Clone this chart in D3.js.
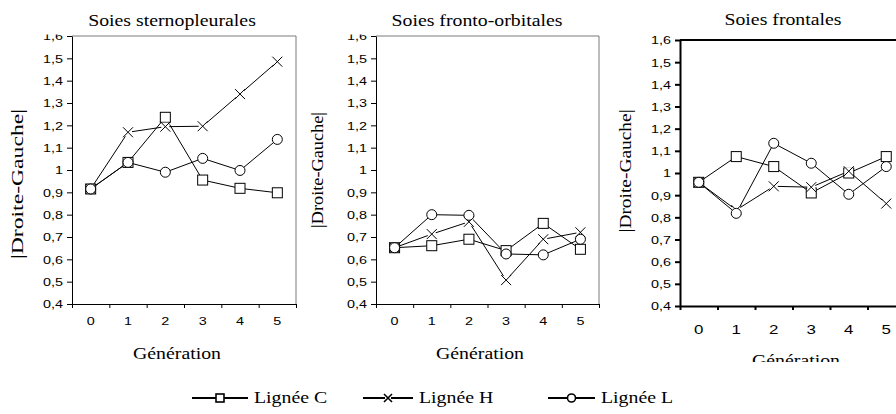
<!DOCTYPE html>
<html>
<head>
<meta charset="utf-8">
<script src="https://cdn.jsdelivr.net/npm/d3@7/dist/d3.min.js"></script>
<style>
  body { margin: 0; background: #fff; }
  svg { display: block; }
  .serif { font-family: "Liberation Serif", "Times New Roman", Times, serif; }
  .sans { font-family: "Liberation Sans", Arial, Helvetica, sans-serif; }
</style>
</head>
<body>
<svg id="chart" width="896" height="414"></svg>
<script>
// Generations on the category axis
const generations = [0, 1, 2, 3, 4, 5];
// Value axis ticks (shown with a decimal comma)
const yTickValues = [0.4, 0.5, 0.6, 0.7, 0.8, 0.9, 1.0, 1.1, 1.2, 1.3, 1.4, 1.5, 1.6];

const lineNames = ["Lignée C", "Lignée H", "Lignée L"];
const panelTitles = ["Soies sternopleurales", "Soies fronto-orbitales", "Soies frontales"];
const yTitle = "|Droite-Gauche|";
const xTitle = "Génération";

// |Droite-Gauche| per generation, one array per line and bristle type
const sternoC = [0.915, 1.034, 1.236, 0.955, 0.918, 0.898];
const sternoH = [0.915, 1.169, 1.194, 1.196, 1.340, 1.485];
const sternoL = [0.915, 1.034, 0.990, 1.052, 0.998, 1.137];

const frontoOrbC = [0.652, 0.661, 0.690, 0.639, 0.761, 0.645];
const frontoOrbH = [0.652, 0.713, 0.768, 0.507, 0.690, 0.721];
const frontoOrbL = [0.652, 0.800, 0.797, 0.624, 0.620, 0.690];

const frontalesC = [0.958, 1.074, 1.029, 0.910, 1.000, 1.074];
const frontalesH = [0.958, 0.833, 0.940, 0.936, 1.008, 0.862];
const frontalesL = [0.958, 0.818, 1.134, 1.044, 0.904, 1.029];

const markerKinds = ["square", "cross", "circle"];

// Layout of the three small charts
const panels = [
  { title: panelTitles[0], series: [sternoC, sternoH, sternoL],
    left: 72, right: 296, top: 36, bottom: 304, axisW: 1, frame: "gray",
    titleX: 172, titleY: 26, yLabX: 17, yLabY: 184, yLabLen: 150,
    xLabY: 13, xLabSize: 11.5, xTitleX: 177, xTitleY: 359, clipTop: 34.5, clipBottom: null },
  { title: panelTitles[1], series: [frontoOrbC, frontoOrbH, frontoOrbL],
    left: 376, right: 599, top: 36, bottom: 304, axisW: 1, frame: "gray",
    titleX: 477, titleY: 26, yLabX: 317, yLabY: 170, yLabLen: 116,
    xLabY: 13, xLabSize: 11.5, xTitleX: 480, xTitleY: 359, clipTop: 34.5, clipBottom: null },
  { title: panelTitles[2], series: [frontalesC, frontalesH, frontalesL],
    left: 680, right: 905, top: 40, bottom: 306, axisW: 2, frame: "black",
    titleX: 783, titleY: 25, yLabX: 625, yLabY: 171, yLabLen: 123,
    xLabY: 18, xLabSize: 13.5, xTitleX: 796, xTitleY: 366, clipTop: null, clipBottom: 362 }
];

const STRETCH = 1.2;

const svg = d3.select("#chart");
const defs = svg.append("defs");
const fmt = v => d3.format(".1~f")(v).replace(".", ",");

// text drawn with a horizontal stretch around its anchor point
function stretchedText(parent, x, y, str, size, anchor, cls, sx) {
  return parent.append("text")
    .attr("class", cls)
    .attr("transform", `translate(${x},${y}) scale(${sx},1)`)
    .attr("text-anchor", anchor)
    .style("font-size", size + "px")
    .attr("fill", "#000")
    .text(str);
}

function drawMarker(g, kind, cx, cy, size, sw) {
  const h = size / 2;
  if (kind === "square") {
    g.append("rect").attr("x", cx - h).attr("y", cy - h).attr("width", size).attr("height", size)
      .attr("fill", "#fff").attr("stroke", "#000").attr("stroke-width", sw);
  } else if (kind === "circle") {
    g.append("circle").attr("cx", cx).attr("cy", cy).attr("r", h)
      .attr("fill", "#fff").attr("stroke", "#000").attr("stroke-width", sw);
  } else {
    g.append("rect").attr("x", cx - h + 1).attr("y", cy - h + 1).attr("width", size - 2).attr("height", size - 2)
      .attr("fill", "#fff");
    g.append("path")
      .attr("d", `M${cx - h},${cy - h}L${cx + h},${cy + h}M${cx - h},${cy + h}L${cx + h},${cy - h}`)
      .attr("stroke", "#000").attr("stroke-width", sw).attr("fill", "none");
  }
}

panels.forEach((p, pi) => {
  const root = svg.append("g");
  if (p.clipBottom) {
    defs.append("clipPath").attr("id", "panelclip" + pi)
      .append("rect").attr("x", 0).attr("y", 0).attr("width", 2000).attr("height", p.clipBottom);
    root.attr("clip-path", `url(#panelclip${pi})`);
  }

  const x = d3.scaleBand().domain(generations).range([p.left, p.right]).padding(0);
  const xEdges = d3.scaleLinear().domain([0, generations.length]).range([p.left, p.right]);
  const y = d3.scaleLinear().domain([0.4, 1.6]).range([p.bottom, p.top]);

  // frame (top and right)
  const frameColor = p.frame === "gray" ? "#7a7a7a" : "#000";
  root.append("path")
    .attr("d", `M${p.left},${p.top}H${p.right}V${p.bottom}`)
    .attr("fill", "none").attr("stroke", frameColor).attr("stroke-width", p.axisW);

  // value axis
  const yAxisG = root.append("g").attr("transform", `translate(${p.left},0)`);
  if (p.clipTop) {
    defs.append("clipPath").attr("id", "yclip" + pi)
      .append("rect").attr("x", -200).attr("y", p.clipTop).attr("width", 400).attr("height", 1000);
    yAxisG.attr("clip-path", `url(#yclip${pi})`);
  }
  yAxisG.call(d3.axisLeft(y).tickValues(yTickValues).tickSize(5).tickSizeOuter(0).tickFormat(fmt));
  yAxisG.attr("font-family", null).attr("font-size", null);
  yAxisG.select(".domain").attr("stroke", "#000").attr("stroke-width", p.axisW);
  yAxisG.selectAll(".tick line").attr("stroke", "#000").attr("stroke-width", p.axisW);
  yAxisG.selectAll(".tick text")
    .attr("class", "sans")
    .attr("x", 0).attr("dy", "0.34em")
    .attr("transform", `translate(-9,0) scale(1.25,1)`)
    .style("font-size", "11.5px").attr("fill", "#000");

  // category axis: ticks between categories, labels centred in each band
  const xTickG = root.append("g").attr("transform", `translate(0,${p.bottom})`);
  xTickG.call(d3.axisBottom(xEdges).tickValues(d3.range(generations.length + 1)).tickSize(4).tickSizeOuter(0).tickFormat(""));
  xTickG.select(".domain").attr("stroke", "#000").attr("stroke-width", p.axisW);
  xTickG.selectAll(".tick line").attr("stroke", "#000").attr("stroke-width", p.axisW);

  const xLabG = root.append("g").attr("transform", `translate(0,${p.bottom})`);
  xLabG.call(d3.axisBottom(x).tickSize(0).tickPadding(p.xLabY));
  xLabG.attr("font-family", null).attr("font-size", null);
  xLabG.select(".domain").remove();
  xLabG.selectAll(".tick text")
    .attr("class", "sans")
    .attr("y", 0).attr("dy", "0").attr("transform", `translate(0,${p.xLabY + p.xLabSize * 0.72}) scale(1.25,1)`)
    .style("font-size", p.xLabSize + "px").attr("fill", "#000");

  // titles
  stretchedText(root, p.titleX, p.titleY, p.title, 16.5, "middle", "serif", STRETCH);
  stretchedText(root, p.xTitleX, p.xTitleY, xTitle, 16.5, "middle", "serif", STRETCH);
  root.append("text")
    .attr("class", "serif")
    .attr("transform", `translate(${p.yLabX + 6},${p.yLabY}) rotate(-90)`)
    .attr("text-anchor", "middle")
    .style("font-size", "16.5px")
    .attr("textLength", p.yLabLen).attr("lengthAdjust", "spacingAndGlyphs")
    .text(yTitle);

  // lines first, then markers on top
  const line = d3.line().x((d, i) => x(generations[i]) + x.bandwidth() / 2).y(d => y(d));
  p.series.forEach(vals => {
    root.append("path").attr("d", line(vals))
      .attr("fill", "none").attr("stroke", "#000").attr("stroke-width", 1);
  });
  p.series.forEach((vals, si) => {
    const mg = root.append("g");
    vals.forEach((v, i) => {
      drawMarker(mg, markerKinds[si], x(generations[i]) + x.bandwidth() / 2, y(v), 10, 1);
    });
  });
});

// legend
const legendItems = [
  { x0: 192, x1: 248, tx: 254 },
  { x0: 363, x1: 413, tx: 419 },
  { x0: 548, x1: 595, tx: 601 }
];
const legendY = 398;
const lg = svg.append("g");
lineNames.forEach((name, i) => {
  const it = legendItems[i];
  lg.append("line").attr("x1", it.x0).attr("x2", it.x1).attr("y1", legendY).attr("y2", legendY)
    .attr("stroke", "#000").attr("stroke-width", 1.8);
  drawMarker(lg, markerKinds[i], (it.x0 + it.x1) / 2, legendY, 8, 1.6);
  stretchedText(lg, it.tx, legendY + 5, name, 16.5, "start", "serif", STRETCH);
});
</script>
</body>
</html>
